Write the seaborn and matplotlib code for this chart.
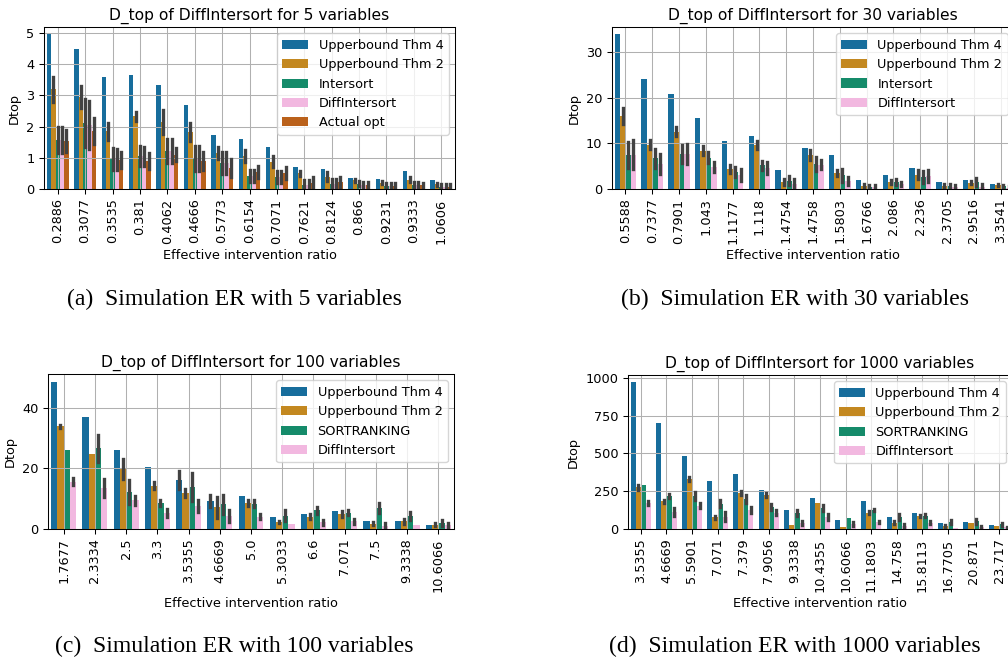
import matplotlib
matplotlib.use("Agg")
import matplotlib.pyplot as plt
import pandas as pd
import seaborn as sns

# ---------------------------------------------------------------- data
# 5 variables
ratios_5 = ["0.2886", "0.3077", "0.3535", "0.381", "0.4062", "0.4666", "0.5773",
            "0.6154", "0.7071", "0.7621", "0.8124", "0.866", "0.9231", "0.9333", "1.0606"]
ub4_5 = [4.95, 4.48, 3.58, 3.65, 3.33, 2.70, 1.73, 1.60, 1.33, 0.70, 0.65, 0.35, 0.33, 0.58, 0.30]
ub4_5_err = [0] * 15
ub2_5 = [3.20, 2.95, 1.85, 2.33, 2.15, 1.83, 1.15, 1.05, 0.87, 0.50, 0.40, 0.28, 0.20, 0.30, 0.15]
ub2_5_err = [0.40, 0.35, 0.28, 0.14, 0.38, 0.28, 0.20, 0.20, 0.18, 0.08, 0.13, 0.05, 0.05, 0.07, 0.05]
int_5 = [1.58, 2.12, 0.96, 1.06, 1.22, 0.98, 0.82, 0.42, 0.38, 0.14, 0.17, 0.17, 0.09, 0.12, 0.08]
int_5_err = [0.42, 0.76, 0.34, 0.31, 0.38, 0.40, 0.35, 0.18, 0.20, 0.14, 0.16, 0.08, 0.09, 0.10, 0.07]
diff_5 = [1.58, 2.05, 0.95, 1.05, 1.22, 0.98, 0.82, 0.42, 0.38, 0.14, 0.17, 0.14, 0.09, 0.12, 0.08]
diff_5_err = [0.42, 0.76, 0.34, 0.31, 0.38, 0.40, 0.35, 0.18, 0.20, 0.14, 0.16, 0.08, 0.09, 0.10, 0.07]
opt_5 = [1.55, 1.85, 0.92, 0.90, 1.10, 0.90, 0.68, 0.55, 0.52, 0.20, 0.22, 0.12, 0.10, 0.12, 0.08]
opt_5_err = [0.35, 0.42, 0.26, 0.25, 0.20, 0.30, 0.28, 0.20, 0.20, 0.17, 0.17, 0.10, 0.08, 0.08, 0.07]

# 30 variables
ratios_30 = ["0.5588", "0.7377", "0.7901", "1.043", "1.1177", "1.118", "1.4754", "1.4758",
             "1.5803", "1.6766", "2.086", "2.236", "2.3705", "2.9516", "3.3541"]
ub4_30 = [33.9, 24.1, 20.8, 15.5, 10.6, 11.6, 4.2, 8.9, 7.5, 2.0, 3.1, 4.6, 1.6, 2.0, 1.1]
ub4_30_err = [0] * 15
ub2_30 = [16.0, 9.7, 12.6, 8.4, 4.4, 9.7, 1.6, 7.5, 3.5, 0.6, 1.5, 3.1, 0.7, 1.4, 0.8]
ub2_30_err = [1.7, 1.0, 0.9, 1.0, 0.8, 0.9, 0.7, 1.1, 0.7, 0.4, 0.5, 1.0, 0.35, 0.35, 0.25]
int_30 = [7.5, 6.7, 7.7, 6.9, 3.8, 5.2, 1.8, 5.5, 3.0, 0.5, 1.5, 2.7, 0.7, 1.6, 0.6]
int_30_err = [2.8, 2.0, 2.0, 1.3, 1.1, 1.0, 1.0, 1.6, 1.4, 0.4, 0.6, 1.3, 0.4, 0.9, 0.3]
diff_30 = [7.5, 5.4, 7.7, 4.9, 3.1, 4.6, 1.2, 5.3, 1.8, 0.5, 1.1, 2.9, 0.4, 0.5, 0.3]
diff_30_err = [3.2, 2.2, 2.2, 1.1, 1.3, 1.3, 1.0, 1.0, 0.9, 0.4, 0.5, 1.3, 0.4, 0.5, 0.3]

# 100 variables
ratios_100 = ["1.7677", "2.3334", "2.5", "3.3", "3.5355", "4.6669", "5.0", "5.3033",
              "6.6", "7.071", "7.5", "9.3338", "10.6066"]
ub4_100 = [48.4, 36.8, 26.2, 20.3, 16.2, 9.2, 10.8, 4.1, 4.8, 5.8, 2.5, 2.6, 1.4]
ub4_100_err = [0, 0, 0, 0, 2.9, 2.0, 0, 0, 0, 0, 0, 0, 0]
ub2_100 = [33.8, 24.6, 19.9, 14.3, 11.9, 7.2, 8.5, 2.3, 4.0, 5.0, 1.7, 2.6, 1.4]
ub2_100_err = [0.4, 0, 3.3, 1.1, 1.2, 3.5, 1.0, 0.4, 0.8, 0.9, 0.5, 0.8, 0.5]
sr_100 = [26.0, 26.6, 12.3, 8.5, 13.8, 8.1, 8.4, 4.4, 6.2, 5.3, 6.9, 4.4, 2.0]
sr_100_err = [0, 4.4, 3.9, 1.0, 4.5, 3.0, 1.0, 1.8, 1.1, 0.8, 1.6, 1.3, 0.9]
diff_100 = [15.6, 13.6, 9.4, 5.3, 7.6, 4.3, 4.1, 1.6, 2.2, 2.6, 1.1, 1.3, 1.2]
diff_100_err = [1.2, 3.0, 1.6, 1.3, 2.1, 2.1, 0.9, 0, 0.8, 0.8, 0.9, 0, 0.8]

# 1000 variables
ratios_1000 = ["3.5355", "4.6669", "5.5901", "7.071", "7.379", "7.9056", "9.3338", "10.4355",
               "10.6066", "11.1803", "14.758", "15.8113", "16.7705", "20.871", "23.717"]
ub4_1000 = [969, 698, 482, 319, 366, 257, 123, 203, 62, 183, 77, 105, 40, 45, 25]
ub4_1000_err = [0] * 15
ub2_1000 = [275, 182, 330, 78, 235, 225, 28, 172, 12, 108, 42, 87, 20, 37, 17]
ub2_1000_err = [15, 10, 15, 10, 13, 14, 0, 0, 0, 9, 8, 7, 6, 0, 0]
sr_1000 = [293, 220, 220, 168, 200, 145, 105, 137, 72, 125, 78, 88, 45, 50, 30]
sr_1000_err = [0, 12, 26, 22, 28, 22, 22, 20, 0, 7, 18, 10, 15, 15, 8]
diff_1000 = [173, 112, 155, 82, 125, 108, 40, 82, 33, 45, 22, 42, 5, 15, 10]
diff_1000_err = [15, 27, 15, 28, 20, 18, 12, 20, 10, 6, 9, 9, 0, 7, 5]

# ---------------------------------------------------------------- style
plt.rcParams.update({
    "font.family": "DejaVu Sans",
    "font.size": 9.3,
    "axes.titlesize": 11.2,
    "axes.titlepad": 5.5,
    "axes.linewidth": 0.75,
    "grid.linewidth": 0.75,
    "grid.color": "#b0b0b0",
    "xtick.major.width": 0.75,
    "ytick.major.width": 0.75,
    "xtick.major.size": 3.3,
    "ytick.major.size": 3.3,
    "legend.fontsize": 9.3,
})

COLORS = {
    "Upperbound Thm 4": "#0173b2",
    "Upperbound Thm 2": "#de8f05",
    "Intersort": "#029e73",
    "SORTRANKING": "#029e73",
    "DiffIntersort": "#fbafe4",
    "Actual opt": "#d55e00",
}


def long_frame(ratios, series):
    """Three rows per bar (low, centre, high) so that the median is the bar
    height and the full range is the error interval."""
    rows = []
    for name, vals, errs in series:
        for r, v, e in zip(ratios, vals, errs):
            for y in (max(v - e, 0.0), v, v + e):
                rows.append((r, name, y))
    return pd.DataFrame(rows, columns=["ratio", "method", "Dtop"])


def panel(ax, n_vars, ratios, series, ylim, yticks):
    df = long_frame(ratios, series)
    names = [s[0] for s in series]
    sns.barplot(data=df, x="ratio", y="Dtop", hue="method", order=ratios,
                hue_order=names, palette=[COLORS[n] for n in names],
                estimator="median", errorbar=("pi", 100),
                err_kws={"color": ".26", "linewidth": 2.4}, ax=ax)
    ax.grid(True)
    ax.set_ylim(*ylim)
    ax.set_yticks(yticks)
    ax.tick_params(axis="x", rotation=90)
    ax.set_xlabel("Effective intervention ratio")
    ax.set_ylabel("Dtop")
    ax.set_title(f"D_top of DiffIntersort for {n_vars} variables")
    ax.legend(loc="upper right", title=None)


W, H = 1008, 659
fig = plt.figure(figsize=(W / 100, H / 100), dpi=100)


def rect(left, right, top, bottom):
    return [left / W, 1 - bottom / H, (right - left) / W, (bottom - top) / H]


ax_a = fig.add_axes(rect(44, 455, 27, 189))
ax_b = fig.add_axes(rect(612, 1014, 27, 189))
ax_c = fig.add_axes(rect(48, 454, 374, 529))
ax_d = fig.add_axes(rect(628, 1012, 375, 529))

panel(ax_a, 5, ratios_5, [
    ("Upperbound Thm 4", ub4_5, ub4_5_err),
    ("Upperbound Thm 2", ub2_5, ub2_5_err),
    ("Intersort", int_5, int_5_err),
    ("DiffIntersort", diff_5, diff_5_err),
    ("Actual opt", opt_5, opt_5_err),
], (0, 5.19), [0, 1, 2, 3, 4, 5])

panel(ax_b, 30, ratios_30, [
    ("Upperbound Thm 4", ub4_30, ub4_30_err),
    ("Upperbound Thm 2", ub2_30, ub2_30_err),
    ("Intersort", int_30, int_30_err),
    ("DiffIntersort", diff_30, diff_30_err),
], (0, 35.5), [0, 10, 20, 30])

panel(ax_c, 100, ratios_100, [
    ("Upperbound Thm 4", ub4_100, ub4_100_err),
    ("Upperbound Thm 2", ub2_100, ub2_100_err),
    ("SORTRANKING", sr_100, sr_100_err),
    ("DiffIntersort", diff_100, diff_100_err),
], (0, 51.1), [0, 20, 40])

panel(ax_d, 1000, ratios_1000, [
    ("Upperbound Thm 4", ub4_1000, ub4_1000_err),
    ("Upperbound Thm 2", ub2_1000, ub2_1000_err),
    ("SORTRANKING", sr_1000, sr_1000_err),
    ("DiffIntersort", diff_1000, diff_1000_err),
], (0, 1018), [0, 250, 500, 750, 1000])

# sub-figure captions
cap_kw = dict(family="Liberation Serif", fontsize=17, ha="center", va="center")
fig.text(234 / W, 1 - 299 / H, "(a)  Simulation ER with 5 variables", **cap_kw)
fig.text(795 / W, 1 - 299 / H, "(b)  Simulation ER with 30 variables", **cap_kw)
fig.text(234 / W, 1 - 646 / H, "(c)  Simulation ER with 100 variables", **cap_kw)
fig.text(795 / W, 1 - 646 / H, "(d)  Simulation ER with 1000 variables", **cap_kw)

fig.savefig("out.png", dpi=100)
